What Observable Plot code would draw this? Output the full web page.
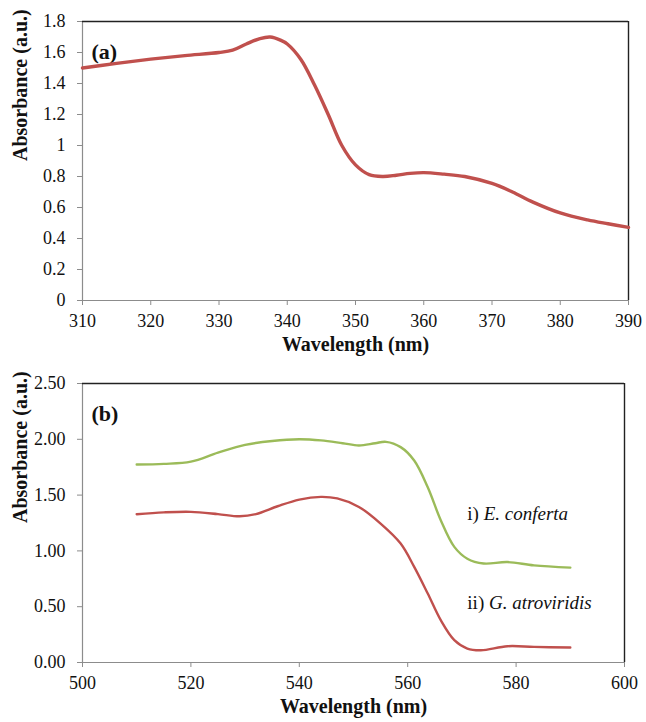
<!DOCTYPE html>
<html>
<head>
<meta charset="utf-8">
<script src="https://cdn.jsdelivr.net/npm/d3@7"></script>
<script src="https://cdn.jsdelivr.net/npm/@observablehq/plot@0.6"></script>
<style>
  html, body { margin: 0; padding: 0; background: #fff; }
  #chart { width: 646px; }
  #chart svg { display: block; }
</style>
</head>
<body>
<div id="chart"></div>
<script>
// ---- Panel (a): UV absorbance spectrum ----
const wavelengthA = [310, 315, 320, 325, 330, 332, 334, 336, 337.5, 339, 340, 342, 344, 346, 348, 350, 352, 354, 356, 358, 360, 363, 366, 370, 373, 376, 380, 384, 387, 390];
const absorbanceA = [1.50, 1.53, 1.557, 1.58, 1.60, 1.615, 1.655, 1.69, 1.70, 1.68, 1.655, 1.555, 1.39, 1.20, 1.00, 0.875, 0.812, 0.80, 0.808, 0.82, 0.825, 0.815, 0.80, 0.755, 0.70, 0.635, 0.565, 0.52, 0.495, 0.472];
const xTicksA = [310, 320, 330, 340, 350, 360, 370, 380, 390];
const yTicksA = [0, 0.2, 0.4, 0.6, 0.8, 1, 1.2, 1.4, 1.6, 1.8];

// ---- Panel (b): visible spectra of two extracts ----
const wavelengthConferta = [510, 515, 520, 525, 530, 535, 540, 544, 548, 551, 554, 556, 558.7, 561.2, 563.7, 566.1, 568.6, 571, 574, 578.4, 583.3, 590];
const absorbanceConferta = [1.774, 1.78, 1.80, 1.88, 1.95, 1.985, 2.00, 1.99, 1.965, 1.945, 1.965, 1.977, 1.93, 1.81, 1.57, 1.275, 1.036, 0.93, 0.887, 0.90, 0.87, 0.85];
const wavelengthAtroviridis = [510, 515, 520, 525, 529, 532, 536, 540, 544, 547, 551, 555, 558.7, 561.2, 563.7, 566.1, 568.6, 571, 573.5, 578.4, 583.3, 590];
const absorbanceAtroviridis = [1.329, 1.345, 1.35, 1.33, 1.31, 1.33, 1.40, 1.46, 1.484, 1.47, 1.394, 1.245, 1.066, 0.857, 0.618, 0.379, 0.20, 0.125, 0.11, 0.146, 0.14, 0.134];
const xTicksB = [500, 520, 540, 560, 580, 600];
const yTicksB = [0, 0.5, 1.0, 1.5, 2.0, 2.5];

const speciesPrefix = ["i)", "ii)"];
const speciesName = ["E. conferta", "G. atroviridis"];
const speciesLabelX = [571, 571];
const speciesLabelY = [1.335, 0.53];

const RED = "#c0504d";
const GREEN = "#9bbb59";
const AXIS_GRAY = "#8c8c8c";
const FONT = "Liberation Serif";

const seriesA = wavelengthA.map((w, i) => ({w, a: absorbanceA[i]}));
const seriesB = [
  ...wavelengthConferta.map((w, i) => ({w, a: absorbanceConferta[i], s: "conferta"})),
  ...wavelengthAtroviridis.map((w, i) => ({w, a: absorbanceAtroviridis[i], s: "atroviridis"}))
];
const labelsB = speciesName.map((n, i) => ({prefix: speciesPrefix[i], name: n, x: speciesLabelX[i], y: speciesLabelY[i]}));

// Shared frame: gray left/bottom axes with outward ticks, dark top/right border
function frameMarks(xDomain, yDomain, xTicks, yTicks, yFormat, panelLetter) {
  return [
    Plot.ruleX([xDomain[0]], {stroke: AXIS_GRAY, strokeWidth: 1.2}),
    Plot.ruleY([yDomain[0]], {stroke: AXIS_GRAY, strokeWidth: 1.2}),
    Plot.ruleX([xDomain[1]], {stroke: "#222", strokeWidth: 1.4}),
    Plot.ruleY([yDomain[1]], {stroke: "#222", strokeWidth: 1.4}),
    Plot.axisX({ticks: xTicks, tickSize: 5, tickPadding: 9, stroke: AXIS_GRAY, fill: "#111", tickFormat: d3.format("d"), label: null}),
    Plot.axisY({ticks: yTicks, tickSize: 5, tickPadding: 12, stroke: AXIS_GRAY, fill: "#111", tickFormat: yFormat, label: null}),
    Plot.text(["Absorbance (a.u.)"], {frameAnchor: "left", dx: -62, rotate: -90, fontWeight: "bold", fontSize: 20, fill: "#111"}),
    Plot.text(["Wavelength (nm)"], {frameAnchor: "bottom", dy: 50, fontWeight: "bold", fontSize: 20, fill: "#111"}),
    Plot.text([panelLetter], {frameAnchor: "top-left", dx: 9, dy: 22, textAnchor: "start", fontWeight: "bold", fontSize: 22, fill: "#111"})
  ];
}

const common = {
  width: 646,
  style: {fontSize: "18px", color: "#111", background: "#fff", overflow: "visible"}
};

const plotA = Plot.plot({
  ...common,
  height: 360,
  marginLeft: 82, marginRight: 18, marginTop: 21, marginBottom: 60,
  x: {domain: [310, 390]},
  y: {domain: [0, 1.8]},
  marks: [
    ...frameMarks([310, 390], [0, 1.8], xTicksA, yTicksA, d => String(d), "(a)"),
    Plot.line(seriesA, {x: "w", y: "a", stroke: RED, strokeWidth: 3.4, curve: "catmull-rom"})
  ]
});

const plotB = Plot.plot({
  ...common,
  height: 362,
  marginLeft: 82, marginRight: 22, marginTop: 23, marginBottom: 60,
  x: {domain: [500, 600]},
  y: {domain: [0, 2.5]},
  color: {domain: ["conferta", "atroviridis"], range: [GREEN, RED]},
  marks: [
    ...frameMarks([500, 600], [0, 2.5], xTicksB, yTicksB, d3.format(".2f"), "(b)"),
    Plot.line(seriesB, {x: "w", y: "a", z: "s", stroke: "s", strokeWidth: 2.4, curve: "catmull-rom"}),
    Plot.text(labelsB, {x: "x", y: "y", text: d => `${d.prefix} ${d.name}`, textAnchor: "start", fontSize: 19, fill: "#111", ariaDescription: "species"})
  ]
});

// Species names are set in italics, the numbering stays upright
d3.select(plotB).selectAll("g[aria-description=species] text").each(function () {
  const el = d3.select(this);
  const t = el.text();
  const k = t.indexOf(" ");
  el.text(null);
  el.append("tspan").text(t.slice(0, k));
  el.append("tspan").attr("font-style", "italic").text(" " + t.slice(k + 1));
});

// Serif type throughout both panels
for (const svg of [plotA, plotB]) {
  d3.select(svg).attr("font-family", FONT).style("font-family", FONT, "important");
  d3.select(svg).selectAll("g, text, tspan").attr("font-family", FONT).style("font-family", FONT, "important");
}

const chart = document.getElementById("chart");
chart.append(plotA, plotB);
</script>
</body>
</html>
